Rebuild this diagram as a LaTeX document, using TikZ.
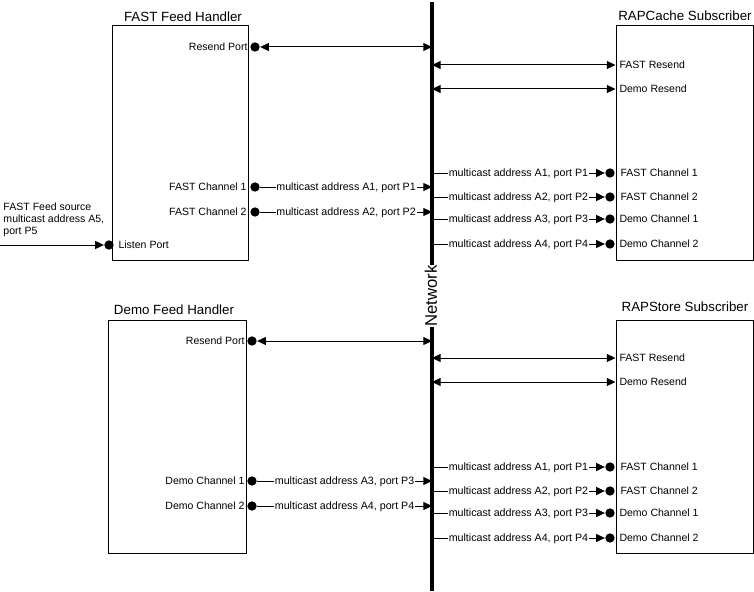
\documentclass[tikz,border=0pt]{standalone}
\usepackage{fontspec}
\setmainfont{Liberation Sans}
\usetikzlibrary{arrows.meta}
\tikzset{every picture/.style={line width=0.75pt}}
\tikzset{
	boxnode/.style={draw,inner sep=0pt,minimum width=#1},
	boxnode/.default={103.5pt},
	titletext/.style={font=\fontsize{10}{12}\selectfont,inner sep=0pt},
	porttext/.style={font=\fontsize{7.9}{9.2}\selectfont,inner sep=0pt},
	wiretext/.style={font=\fontsize{8}{9.2}\selectfont,inner sep=0.6pt,fill=white,pos=0.5,yshift=-0.5pt},
	portdot/.style={circle,fill=black,inner sep=0pt,minimum size=7pt},
	wire/.style={-{Triangle[length=6.5pt,width=6pt]}},
	wireboth/.style={{Triangle[length=6.5pt,width=6pt]}-{Triangle[length=6.5pt,width=6pt]}},
}

\begin{document}
\begin{tikzpicture}[x=0.75pt,y=0.75pt,yscale=-1,xscale=1]
	\useasboundingbox (0,0) rectangle (754,592);

	%Network line
	\coordinate (nettop) at (432,2);
	\coordinate (netbot) at (432,591);
	\draw [line width=2.6pt] (nettop) -- (netbot);
	\node [titletext,font=\fontsize{12.5}{14}\selectfont,fill=white,rotate=90,inner ysep=0.5pt] (nettext) at (431,296) {Network};

	%Boxes
	\node [boxnode=102pt,minimum height=175.5pt] (fastbox) at (180,143) {};
	\node [boxnode=103.5pt,minimum height=174.75pt] (demobox) at (177,436.5) {};
	\node [boxnode=102.75pt,minimum height=175.5pt] (cachebox) at (684.5,143) {};
	\node [boxnode=102.75pt,minimum height=174.75pt] (storebox) at (684.5,436.5) {};

	% Text Node
	\node [titletext] (fasttitle) at (183,17) {FAST Feed Handler};
	\node [titletext] (demotitle) at (174,310) {Demo Feed Handler};
	\node [titletext] (cachetitle) at (685,16) {RAPCache Subscriber};
	\node [titletext] (storetitle) at (685,307) {RAPStore Subscriber};

	%FAST Feed Handler ports
	\node [portdot] (fastresdot) at (255,47) {};
	\node [portdot] (fastchadot) at (255,187) {};
	\node [portdot] (fastchbdot) at (255,212) {};
	\node [portdot] (listendot) at (109,245) {};
	\coordinate (sourcestart) at (0,245);
	\node [porttext,anchor=east] (fastrestext) at (248,47) {Resend Port};
	\node [porttext,anchor=east] (fastchatext) at (247,187) {FAST Channel 1};
	\node [porttext,anchor=east] (fastchbtext) at (247,212) {FAST Channel 2};
	\node [porttext,anchor=west] (listentext) at (118,245) {Listen Port};
	\node [porttext,anchor=west,align=left,font=\fontsize{7.9}{9.2}\selectfont] (sourcetext) at (3,220) {FAST Feed source\\multicast address A5,\\port P5};
	\draw [wireboth] (fastresdot) -- (fastresdot -| nettop);
	\draw [wire] (fastchadot) -- (fastchadot -| nettop) node [wiretext] (fastchawire) {multicast address A1, port P1};
	\draw [wire] (fastchbdot) -- (fastchbdot -| nettop) node [wiretext] (fastchbwire) {multicast address A2, port P2};
	\draw [wire] (sourcestart) -- (listendot);

	%Demo Feed Handler ports
	\node [portdot] (demoresdot) at (252,341) {};
	\node [portdot] (demochadot) at (252,481) {};
	\node [portdot] (demochbdot) at (252,506) {};
	\node [porttext,anchor=east] (demorestext) at (245,341) {Resend Port};
	\node [porttext,anchor=east] (demochatext) at (245,481) {Demo Channel 1};
	\node [porttext,anchor=east] (demochbtext) at (245,506) {Demo Channel 2};
	\draw [wireboth] (demoresdot) -- (demoresdot -| nettop);
	\draw [wire] (demochadot) -- (demochadot -| nettop) node [wiretext] (demochawire) {multicast address A3, port P3};
	\draw [wire] (demochbdot) -- (demochbdot -| nettop) node [wiretext] (demochbwire) {multicast address A4, port P4};

	%RAPCache Subscriber ports
	\node [porttext,anchor=west] (cacheftext) at (619,65) {FAST Resend};
	\node [porttext,anchor=west] (cachedtext) at (619,89) {Demo Resend};
	\node [portdot] (cacheadot) at (610,173) {};
	\node [portdot] (cachebdot) at (610,197) {};
	\node [portdot] (cachecdot) at (610,219) {};
	\node [portdot] (cacheddot) at (610,244) {};
	\node [porttext,anchor=west] (cacheatext) at (620,173) {FAST Channel 1};
	\node [porttext,anchor=west] (cachebtext) at (620,197) {FAST Channel 2};
	\node [porttext,anchor=west] (cacheetext) at (619,219) {Demo Channel 1};
	\node [porttext,anchor=west] (cachegtext) at (619,244) {Demo Channel 2};
	\draw [wireboth] (cacheftext -| nettop) -- (cacheftext -| cachebox.west);
	\draw [wireboth] (cachedtext -| nettop) -- (cachedtext -| cachebox.west);
	\draw [wire] (cacheadot -| nettop) -- (cacheadot) node [wiretext] (cacheawire) {multicast address A1, port P1};
	\draw [wire] (cachebdot -| nettop) -- (cachebdot) node [wiretext] (cachebwire) {multicast address A2, port P2};
	\draw [wire] (cachecdot -| nettop) -- (cachecdot) node [wiretext] (cachecwire) {multicast address A3, port P3};
	\draw [wire] (cacheddot -| nettop) -- (cacheddot) node [wiretext] (cachedwire) {multicast address A4, port P4};

	%RAPStore Subscriber ports
	\node [porttext,anchor=west] (storeftext) at (619,358) {FAST Resend};
	\node [porttext,anchor=west] (storedtext) at (619,382) {Demo Resend};
	\node [portdot] (storeadot) at (610,467) {};
	\node [portdot] (storebdot) at (610,491) {};
	\node [portdot] (storecdot) at (610,513) {};
	\node [portdot] (storeddot) at (610,538) {};
	\node [porttext,anchor=west] (storeatext) at (620,467) {FAST Channel 1};
	\node [porttext,anchor=west] (storebtext) at (620,491) {FAST Channel 2};
	\node [porttext,anchor=west] (storeetext) at (619,513) {Demo Channel 1};
	\node [porttext,anchor=west] (storegtext) at (619,538) {Demo Channel 2};
	\draw [wireboth] (storeftext -| nettop) -- (storeftext -| storebox.west);
	\draw [wireboth] (storedtext -| nettop) -- (storedtext -| storebox.west);
	\draw [wire] (storeadot -| nettop) -- (storeadot) node [wiretext] (storeawire) {multicast address A1, port P1};
	\draw [wire] (storebdot -| nettop) -- (storebdot) node [wiretext] (storebwire) {multicast address A2, port P2};
	\draw [wire] (storecdot -| nettop) -- (storecdot) node [wiretext] (storecwire) {multicast address A3, port P3};
	\draw [wire] (storeddot -| nettop) -- (storeddot) node [wiretext] (storedwire) {multicast address A4, port P4};

\end{tikzpicture}
\end{document}
